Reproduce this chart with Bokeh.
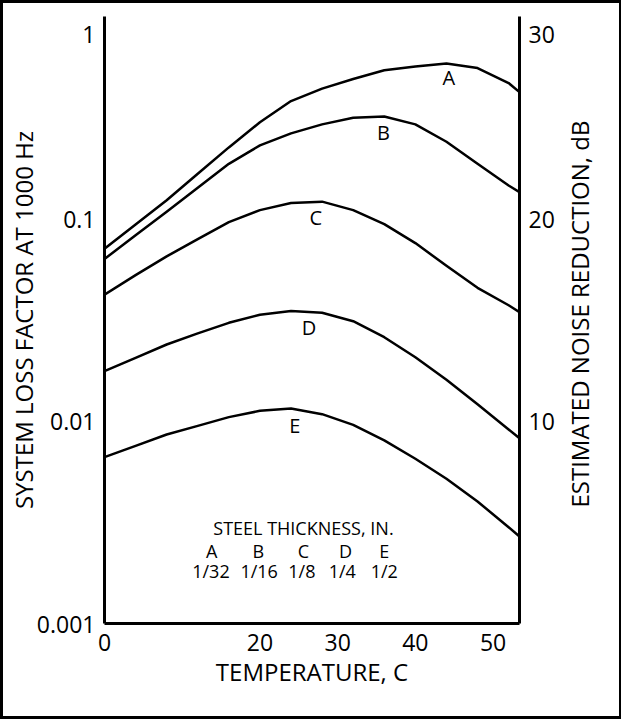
import math
from bokeh.plotting import figure
from bokeh.models import (Range1d, LinearAxis, LinearScale, FixedTicker,
                          PrintfTickFormatter)
from bokeh.core.properties import value
from bokeh.embed import file_html
from bokeh.resources import INLINE

# ---------------- data ----------------
temperature = [0, 4, 8, 12, 16, 20, 24, 28, 32, 36, 40, 44, 48, 52, 53.4]

loss_A = [0.0711, 0.0937, 0.1236, 0.167, 0.2254, 0.300, 0.382, 0.440, 0.491, 0.542, 0.566, 0.585, 0.556, 0.469, 0.423]
loss_B = [0.0633, 0.0830, 0.1084, 0.1426, 0.187, 0.2307, 0.2644, 0.293, 0.316, 0.3206, 0.293, 0.2404, 0.187, 0.1462, 0.1355]
loss_C = [0.0422, 0.0527, 0.0652, 0.0794, 0.0964, 0.1104, 0.1197, 0.1216, 0.1104, 0.0942, 0.0759, 0.0586, 0.0456, 0.0374, 0.0346]
loss_D = [0.01766, 0.02056, 0.02393, 0.02716, 0.03062, 0.03357, 0.0350, 0.03436, 0.03119, 0.0260, 0.0207, 0.01603, 0.01211, 0.00910, 0.00824]
loss_E = [0.00664, 0.00755, 0.00859, 0.00948, 0.01047, 0.01125, 0.01156, 0.01083, 0.00959, 0.00804, 0.00652, 0.00519, 0.00401, 0.00299, 0.00269]

curve_names = ["A", "B", "C", "D", "E"]
thickness_labels = ["1/32", "1/16", "1/8", "1/4", "1/2"]

x_ticks = [0, 20, 30, 40, 50]
y_ticks = [0.001, 0.01, 0.1, 1]
db_ticks = [10, 20, 30]

# curve-letter annotation anchors (temperature, loss factor)
label_x = [44.3, 35.9, 27.2, 26.3, 24.5]
label_y = [0.50, 0.267, 0.1016, 0.0290, 0.00952]

# legend block anchors
legend_title_pos = (25.6, 0.00295)
legend_letter_x = [13.8, 19.8, 25.6, 31.0, 36.0]
legend_letter_y = 0.00227
legend_frac_x = [13.7, 19.9, 25.4, 30.6, 36.0]
legend_frac_y = 0.00181

FONT = "Open Sans"
TICK_SIZE = "23px"
TITLE_SIZE = "24px"

X_MAX = 53.4
RIGHT_TITLE = "ESTIMATED NOISE REDUCTION, dB"
RIGHT_TITLE_START_DB = 5.73   # where the upward-reading right title begins

p = figure(frame_width=415, frame_height=607,
           min_border_left=100, min_border_right=100,
           min_border_top=13, min_border_bottom=93,
           x_range=Range1d(0, X_MAX), y_range=Range1d(0.001, 1),
           y_axis_type="log", output_backend="svg", toolbar_location=None)
p.styles = {"border": "3px solid black"}
p.outline_line_color = None
p.xgrid.visible = False
p.ygrid.visible = False
p.background_fill_color = "white"
p.border_fill_color = "white"

p.extra_y_ranges = {"db": Range1d(0, 30)}
p.extra_y_scales = {"db": LinearScale()}
right = LinearAxis(y_range_name="db")
p.add_layout(right, "right")

def style_axis(ax):
    ax.axis_line_width = 3
    ax.axis_line_color = "black"
    ax.major_tick_line_color = None
    ax.minor_tick_line_color = None
    ax.major_tick_out = 0
    ax.major_tick_in = 0
    ax.minor_tick_out = 0
    ax.minor_tick_in = 0
    ax.major_label_text_font = FONT
    ax.major_label_text_font_size = TICK_SIZE
    ax.major_label_text_color = "black"
    ax.axis_label_text_font = FONT
    ax.axis_label_text_font_size = TITLE_SIZE
    ax.axis_label_text_font_style = "normal"
    ax.axis_label_text_color = "black"

xa = p.xaxis[0]
style_axis(xa)
xa.ticker = FixedTicker(ticks=x_ticks)
xa.axis_label = "TEMPERATURE, C"
xa.major_label_standoff = 10
xa.axis_label_standoff = 1

ya = p.yaxis[0]
style_axis(ya)
ya.ticker = FixedTicker(ticks=y_ticks)
ya.formatter = PrintfTickFormatter(format="%g")
# top label sits just below the top of the axis, as in the original artwork
ya.major_label_overrides = {1: "\n1"}
ya.major_label_text_line_height = 0.45
ya.axis_label = "SYSTEM LOSS FACTOR AT 1000 Hz"
ya.major_label_standoff = 9
ya.axis_label_standoff = -6

style_axis(right)
right.ticker = FixedTicker(ticks=db_ticks)
right.major_label_overrides = {30: "\n30"}
right.major_label_text_line_height = 0.45
right.major_label_standoff = 9

# right-hand title, reading bottom to top like the left one
title_axis = LinearAxis(y_range_name="db")
style_axis(title_axis)
title_axis.axis_line_color = None
title_axis.ticker = FixedTicker(ticks=[RIGHT_TITLE_START_DB])
title_axis.major_label_overrides = {RIGHT_TITLE_START_DB: RIGHT_TITLE}
title_axis.major_label_orientation = math.pi / 2
title_axis.major_label_text_font_size = TITLE_SIZE
title_axis.major_label_standoff = 22
p.add_layout(title_axis, "right")

for series in [loss_A, loss_B, loss_C, loss_D, loss_E]:
    p.line(temperature, series, line_color="black", line_width=2.5, line_join="round")

p.text(x=label_x, y=label_y, text=curve_names, text_font=value(FONT),
       text_font_size="20px", text_align="center", text_baseline="middle", text_color="black")

p.text(x=[legend_title_pos[0]], y=[legend_title_pos[1]], text=["STEEL THICKNESS, IN."],
       text_font=value(FONT), text_font_size="18px", text_align="center",
       text_baseline="middle", text_color="black")
p.text(x=legend_letter_x, y=[legend_letter_y] * 5, text=curve_names,
       text_font=value(FONT), text_font_size="18px", text_align="center",
       text_baseline="middle", text_color="black")
p.text(x=legend_frac_x, y=[legend_frac_y] * 5, text=thickness_labels,
       text_font=value(FONT), text_font_size="18px", text_align="center",
       text_baseline="middle", text_color="black")

open("out.html", "w").write(file_html(p, INLINE))
